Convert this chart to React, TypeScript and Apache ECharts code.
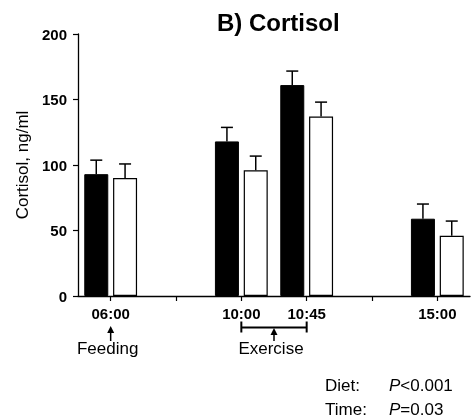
import React, { useEffect, useRef } from "react";
import * as echarts from "echarts";

const categories = ["06:00", "", "10:00", "10:45", "", "15:00"];
const dietAValues = [93, null, 118, 161, null, 59];
const dietAErrors = [10.7, null, 10.7, 10.7, null, 11.2];
const dietBValues = [90, null, 96, 137, null, 46];
const dietBErrors = [10.8, null, 10.8, 11, null, 11.2];
const yTicks = { min: 0, max: 200, interval: 50 };
const titleText = "B) Cortisol";
const yAxisName = "Cortisol, ng/ml";
const feedingLabel = "Feeding";
const exerciseLabel = "Exercise";
const statsRows = [
  ["Diet:", "<0.001"],
  ["Time:", "=0.03"],
];

const FONT = "'Liberation Sans', Arial, Helvetica, sans-serif";
const BAR_W = 24;
const BAR_GAP = 0.2;
const HALF = (BAR_W + BAR_W * BAR_GAP) / 2;

function errorSeries(values: (number | null)[], errors: (number | null)[], offset: number) {
  const data: number[][] = [];
  values.forEach((v, i) => {
    if (v !== null && errors[i] !== null) data.push([i, v, errors[i] as number]);
  });
  return {
    type: "custom",
    data,
    z: 5,
    renderItem: (params: any, api: any) => {
      const idx = api.value(0);
      const v = api.value(1);
      const e = api.value(2);
      const base = api.coord([idx, v]);
      const top = api.coord([idx, v + e]);
      const x = base[0] + offset;
      const style = { stroke: "#000", lineWidth: 1.5 };
      return {
        type: "group",
        children: [
          { type: "line", shape: { x1: x, y1: base[1], x2: x, y2: top[1] }, style },
          { type: "line", shape: { x1: x - 6, y1: top[1], x2: x + 6, y2: top[1] }, style },
        ],
      };
    },
  };
}

export default function App() {
  const ref = useRef<HTMLDivElement>(null);
  useEffect(() => {
    if (!ref.current) return;
    const chart = echarts.init(ref.current, null, { renderer: "svg" });
    chart.setOption({
      animation: false,
      textStyle: { fontFamily: FONT, color: "#000" },
      title: {
        text: titleText,
        left: 212,
        top: 5,
        textStyle: { fontFamily: FONT, fontSize: 24, fontWeight: "bold", color: "#000" },
      },
      grid: { left: 78, right: 1, top: 34, bottom: 123, containLabel: false },
      xAxis: {
        type: "category",
        data: categories,
        axisLine: { show: true, lineStyle: { color: "#000", width: 1.3 } },
        axisTick: { show: true, alignWithLabel: true, interval: 0, length: 5, lineStyle: { color: "#000", width: 1.2 } },
        axisLabel: { interval: 0, margin: 10, fontFamily: FONT, fontSize: 15, fontWeight: "bold", color: "#000" },
        splitLine: { show: false },
      },
      yAxis: {
        type: "value",
        min: yTicks.min,
        max: yTicks.max,
        interval: yTicks.interval,
        name: yAxisName,
        nameLocation: "middle",
        nameGap: 46,
        nameTextStyle: { fontFamily: FONT, fontSize: 17, color: "#000" },
        axisLine: { show: true, lineStyle: { color: "#000", width: 1.3 } },
        axisTick: { show: true, length: 5, lineStyle: { color: "#000", width: 1.2 } },
        axisLabel: { margin: 11, fontFamily: FONT, fontSize: 15, fontWeight: "bold", color: "#000" },
        splitLine: { show: false },
      },
      series: [
        {
          type: "bar",
          data: dietAValues,
          barWidth: BAR_W,
          barGap: `${BAR_GAP * 100}%`,
          itemStyle: { color: "#000", borderColor: "#000", borderWidth: 1 },
        },
        {
          type: "bar",
          data: dietBValues,
          barWidth: BAR_W,
          barGap: `${BAR_GAP * 100}%`,
          itemStyle: { color: "#fff", borderColor: "#000", borderWidth: 1.2 },
        },
        errorSeries(dietAValues, dietAErrors, -HALF),
        errorSeries(dietBValues, dietBErrors, HALF),
      ],
    });

    const xOf = (i: number) => chart.convertToPixel({ xAxisIndex: 0 }, i) as number;
    const xFeed = xOf(0);
    const xEx1 = xOf(2);
    const xEx2 = xOf(3);
    const xExMid = (xEx1 + xEx2) / 2;
    const lineStyle = { stroke: "#000", lineWidth: 1.5 };
    const arrow = (x: number, yTop: number, yBot: number) => [
      { type: "line", shape: { x1: x, y1: yBot, x2: x, y2: yTop + 5 }, style: lineStyle },
      { type: "polygon", shape: { points: [[x - 3.5, yTop + 7], [x + 3.5, yTop + 7], [x, yTop]] }, style: { fill: "#000" } },
    ];
    const brY = 327.5;
    chart.setOption({
      graphic: [
        ...arrow(xFeed, 326, 341),
        { type: "text", x: xFeed - 3, y: 348, style: { text: feedingLabel, font: `17px ${FONT}`, fill: "#000", align: "center", verticalAlign: "middle" } },
        { type: "line", shape: { x1: xEx1, y1: brY, x2: xEx2, y2: brY }, style: { stroke: "#000", lineWidth: 2 } },
        { type: "line", shape: { x1: xEx1, y1: brY - 6, x2: xEx1, y2: brY + 5 }, style: { stroke: "#000", lineWidth: 2 } },
        { type: "line", shape: { x1: xEx2, y1: brY - 6, x2: xEx2, y2: brY + 5 }, style: { stroke: "#000", lineWidth: 2 } },
        ...arrow(xExMid, 328, 341),
        { type: "text", x: xExMid - 3, y: 348, style: { text: exerciseLabel, font: `17px ${FONT}`, fill: "#000", align: "center", verticalAlign: "middle" } },
        ...statsRows.map((row, k) => ({
          type: "text",
          x: 325,
          y: 385 + k * 24,
          style: { text: row[0], font: `17px ${FONT}`, fill: "#000", verticalAlign: "middle" },
        })),
        ...statsRows.map((row, k) => ({
          type: "text",
          x: 389,
          y: 385 + k * 24,
          style: {
            text: `{i|P}{n|${row[1]}}`,
            verticalAlign: "middle",
            rich: {
              i: { font: `italic 17px ${FONT}`, fill: "#000" },
              n: { font: `17px ${FONT}`, fill: "#000" },
            },
          },
        })),
      ],
    });
    return () => chart.dispose();
  }, []);
  return <div ref={ref} style={{ position: "fixed", left: 0, top: 0, width: 471, height: 419 }} />;
}
